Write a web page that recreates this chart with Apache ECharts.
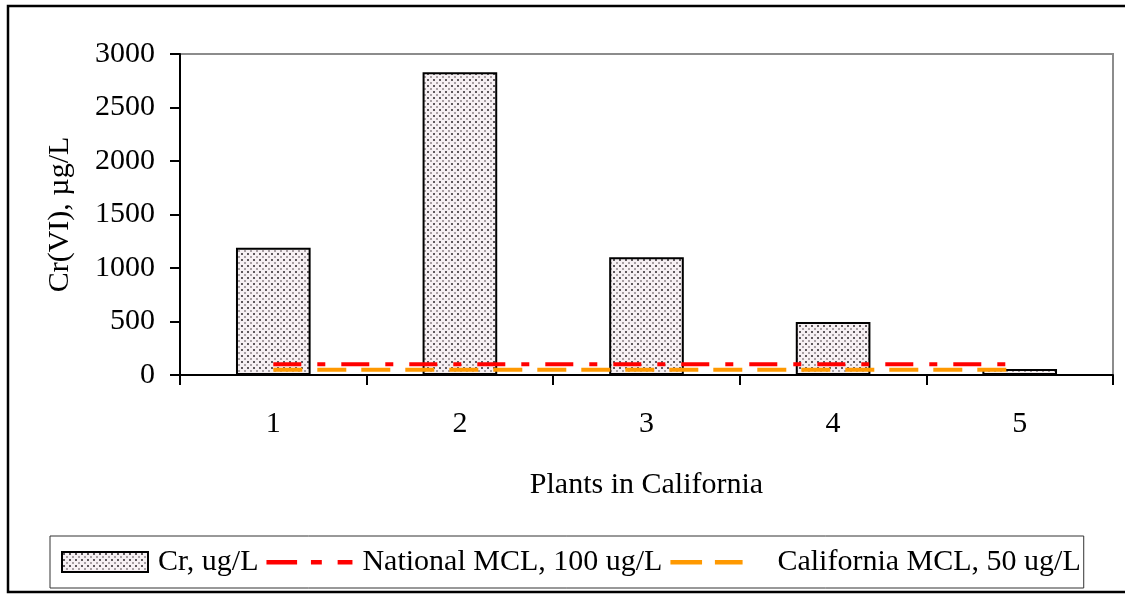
<!DOCTYPE html>
<html>
<head>
<meta charset="utf-8">
<script src="https://cdn.jsdelivr.net/npm/echarts@6/dist/echarts.min.js"></script>
<style>
html,body{margin:0;padding:0;background:#fff;}
#chart{width:1125px;height:596px;}
</style>
</head>
<body>
<div id="chart"></div>
<script>
const categories = ['1', '2', '3', '4', '5'];
const crValues = [1190, 2830, 1100, 495, 55];
const nationalMCL = [100, 100, 100, 100, 100];
const californiaMCL = [50, 50, 50, 50, 50];
const yTicks = [0, 500, 1000, 1500, 2000, 2500, 3000];

const FONT = "'Liberation Serif', 'Times New Roman', serif";

// dotted texture for bars
const pc = document.createElement('canvas');
pc.width = 6; pc.height = 6;
const px = pc.getContext('2d');
px.fillStyle = '#f6f0f3';
px.fillRect(0, 0, 6, 6);
px.fillStyle = '#5e585c';
px.fillRect(1, 1, 2, 2);
px.fillStyle = '#a8a0a4';
px.fillRect(4, 4, 2, 2);
const dotPattern = { image: pc, repeat: 'repeat' };

// legend icons (dash pieces inside an 87x20 box; tiny corner specks fix the box)
const box = 'M0 0h0.01v0.01h-0.01Z M86.99 19.99h0.01v0.01h-0.01Z ';
const redIcon = 'path://' + box + 'M0 8h31v4.5h-31Z M45 8h11v4.5h-11Z M72 8h15v4.5h-15Z';
const orangeIcon = 'path://' + box + 'M0 8h32v4.5h-32Z M45 8h28v4.5h-28Z';

const chart = echarts.init(document.getElementById('chart'));
chart.setOption({
  animation: false,
  backgroundColor: '#fff',
  textStyle: { fontFamily: FONT },
  graphic: [{
    type: 'rect',
    shape: { x: 8, y: 6, width: 1130, height: 586 },
    style: { fill: 'none', stroke: '#000', lineWidth: 2.5 },
    z: -1
  }],
  grid: {
    left: 180, top: 54, right: 12, bottom: 221,
    show: true, borderColor: '#8c8c8c', borderWidth: 2,
    containLabel: false
  },
  legend: {
    left: 50, top: 536,
    padding: [11, 3, 11, 11],
    borderColor: '#333', borderWidth: 1,
    itemWidth: 86, itemHeight: 20, itemGap: 8,
    textStyle: { fontFamily: FONT, fontSize: 30, color: '#000', padding: [0, 0, 0, 5] },
    data: [
      { name: 'Cr, ug/L', icon: 'rect' },
      { name: 'National MCL, 100 ug/L', icon: redIcon, itemStyle: { color: '#ff0000' } },
      { name: 'California MCL, 50 ug/L', icon: orangeIcon, itemStyle: { color: '#ff9900' },
        textStyle: { padding: [0, 0, 0, 16] } }
    ]
  },
  xAxis: {
    type: 'category',
    data: categories,
    boundaryGap: true,
    name: 'Plants in California',
    nameLocation: 'middle',
    nameGap: 95,
    nameTextStyle: { fontFamily: FONT, fontSize: 30, color: '#000' },
    axisLine: { lineStyle: { color: '#000', width: 2 } },
    axisTick: { show: true, length: 10, lineStyle: { color: '#000', width: 2 } },
    axisLabel: { fontFamily: FONT, fontSize: 30, color: '#000', margin: 34 },
    splitLine: { show: false }
  },
  yAxis: {
    type: 'value',
    min: 0, max: 3000, interval: 500,
    name: 'Cr(VI), µg/L',
    nameLocation: 'middle',
    nameGap: 105,
    nameTextStyle: { fontFamily: FONT, fontSize: 30, color: '#000' },
    axisLine: { show: true, lineStyle: { color: '#000', width: 2 } },
    axisTick: { show: true, length: 10, lineStyle: { color: '#000', width: 2 } },
    axisLabel: {
      fontFamily: FONT, fontSize: 30, color: '#000', margin: 25,
      formatter: function (v) { return yTicks.indexOf(v) >= 0 ? String(v) : ''; }
    },
    splitLine: { show: false }
  },
  series: [
    {
      name: 'Cr, ug/L',
      type: 'bar',
      data: crValues,
      barWidth: '40%',
      itemStyle: { color: dotPattern, borderColor: '#000', borderWidth: 2 },
      z: 2
    },
    {
      name: 'National MCL, 100 ug/L',
      type: 'line',
      data: nationalMCL,
      symbol: 'none',
      lineStyle: { color: '#ff0000', width: 4, type: [28, 16, 8, 16] },
      itemStyle: { color: '#ff0000' },
      z: 3
    },
    {
      name: 'California MCL, 50 ug/L',
      type: 'line',
      data: californiaMCL,
      symbol: 'none',
      lineStyle: { color: '#ff9900', width: 4, type: [29, 15] },
      itemStyle: { color: '#ff9900' },
      z: 3
    }
  ]
});
</script>
</body>
</html>
